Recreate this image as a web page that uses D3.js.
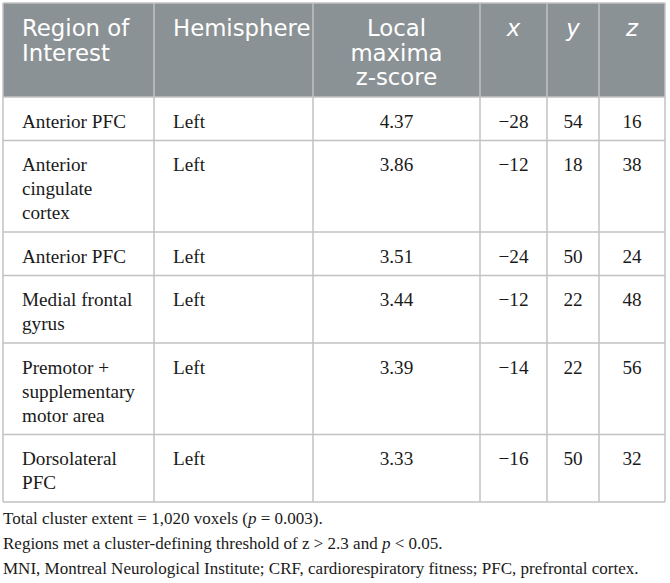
<!DOCTYPE html>
<html>
<head>
<meta charset="utf-8">
<script src="https://cdn.jsdelivr.net/npm/d3@7"></script>
<style>
  body { margin: 0; background: #fff; }
  svg text { font-family: "Liberation Serif", serif; }
</style>
</head>
<body>
<script>
// table content
const headers = ["Region of\nInterest", "Hemisphere", "Local\nmaxima\nz-score", "x", "y", "z"];
const regions = ["Anterior PFC", "Anterior\ncingulate\ncortex", "Anterior PFC", "Medial frontal\ngyrus",
  "Premotor +\nsupplementary\nmotor area", "Dorsolateral\nPFC"];
const hemispheres = ["Left", "Left", "Left", "Left", "Left", "Left"];
const zScores = [4.37, 3.86, 3.51, 3.44, 3.39, 3.33];
const xs = [-28, -12, -24, -12, -14, -16];
const ys = [54, 18, 50, 22, 22, 50];
const zs = [16, 38, 24, 48, 56, 32];

const W = 670, H = 583;
const colWidths = [151, 159, 167, 67, 52, 66];
const colAlign = ["start", "start", "middle", "middle", "middle", "middle"];
const tLeft = 3, tTop = 3, pad = 19;
const lineH = 24, headH = 94;

const colEdges = [tLeft, ...d3.cumsum(colWidths).map(d => d + tLeft)];
const fmt = d3.format("d"), fmtZ = d3.format(".2f");

const rows = regions.map((r, i) => [r, hemispheres[i], fmtZ(zScores[i]), fmt(xs[i]), fmt(ys[i]), fmt(zs[i])]);
const rowH = rows.map(r => d3.max(r, c => c.split("\n").length) * lineH + 19.5);
const rowEdges = [tTop + headH, ...d3.cumsum(rowH).map(d => d + tTop + headH)];
const tableBottom = rowEdges[rowEdges.length - 1];

const svg = d3.select("body").append("svg")
  .attr("width", W).attr("height", H);

// header background
svg.append("rect")
  .attr("x", tLeft).attr("y", tTop)
  .attr("width", colEdges[6] - tLeft).attr("height", headH)
  .attr("fill", "#8b9295");

const cellX = (j) => colAlign[j] == "start" ? colEdges[j] + pad : (colEdges[j] + colEdges[j + 1]) / 2;

// header text
headers.forEach((h, j) => {
  const t = svg.append("text")
    .attr("text-anchor", colAlign[j])
    .attr("fill", "#fff")
    .style("font-family", "'DejaVu Sans', sans-serif")
    .style("font-size", "22.8px")
    .style("font-style", j >= 3 ? "italic" : "normal");
  h.split("\n").forEach((line, k) => {
    t.append("tspan").attr("x", cellX(j)).attr("y", tTop + 33 + k * 24.6).text(line);
  });
});

// body text
rows.forEach((r, i) => {
  r.forEach((c, j) => {
    const t = svg.append("text")
      .attr("text-anchor", colAlign[j])
      .attr("fill", "#1a1a1a")
      .style("font-size", "19.2px");
    c.split("\n").forEach((line, k) => {
      t.append("tspan").attr("x", cellX(j)).attr("y", rowEdges[i] + 30.5 + k * lineH).text(line);
    });
  });
});

// grid lines
const grid = svg.append("g").attr("stroke", "#c2c2c2").attr("stroke-width", 1.5);
grid.selectAll("line.v").data(colEdges).enter().append("line")
  .attr("x1", d => d).attr("x2", d => d)
  .attr("y1", tTop).attr("y2", tableBottom);
grid.selectAll("line.h").data([tTop, ...rowEdges]).enter().append("line")
  .attr("x1", tLeft).attr("x2", colEdges[6])
  .attr("y1", d => d).attr("y2", d => d);

// footnotes
const notes = [
  [["Total cluster extent = 1,020 voxels (", false], ["p", true], [" = 0.003).", false]],
  [["Regions met a cluster-defining threshold of z > 2.3 and ", false], ["p", true], [" < 0.05.", false]],
  [["MNI, Montreal Neurological Institute; CRF, cardiorespiratory fitness; PFC, prefrontal cortex.", false]]
];
notes.forEach((parts, i) => {
  const t = svg.append("text")
    .attr("x", tLeft).attr("y", tableBottom + 22 + i * 25)
    .attr("fill", "#1a1a1a")
    .style("font-size", "17px");
  parts.forEach(p => {
    t.append("tspan").style("font-style", p[1] ? "italic" : "normal").text(p[0]);
  });
});
</script>
</body>
</html>
